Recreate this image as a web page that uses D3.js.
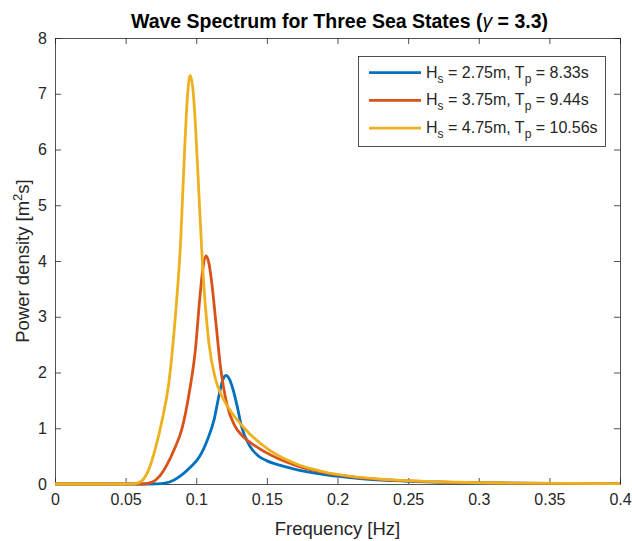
<!DOCTYPE html>
<html>
<head>
<meta charset="utf-8">
<script src="https://cdn.jsdelivr.net/npm/d3@7"></script>
<style>
  body { margin: 0; background: #fff; }
  text { font-family: "Liberation Sans", Arial, Helvetica, sans-serif; }
</style>
</head>
<body>
<div id="chart"></div>
<script>
// frequency [Hz] / power density [m^2 s]
const freqBlue = [0, 0.060, 0.066, 0.072, 0.078, 0.084, 0.090, 0.096, 0.102, 0.108, 0.1126, 0.1162, 0.1186, 0.121, 0.1234, 0.1258, 0.1292, 0.132, 0.138, 0.144, 0.150, 0.156, 0.168, 0.192, 0.216, 0.240, 0.300, 0.360, 0.400];
const psdBlue = [0, 0, 0, 0.002, 0.016, 0.067, 0.168, 0.304, 0.478, 0.799, 1.150, 1.601, 1.851, 1.950, 1.887, 1.717, 1.369, 1.038, 0.676, 0.502, 0.415, 0.360, 0.277, 0.163, 0.097, 0.060, 0.020, 0.008, 0.005];

const freqRed = [0, 0.0582, 0.0635, 0.0688, 0.0741, 0.0794, 0.0847, 0.0900, 0.0953, 0.0994, 0.1026, 0.1048, 0.1069, 0.1090, 0.1110, 0.1140, 0.1168, 0.1218, 0.1271, 0.1324, 0.1377, 0.1483, 0.1694, 0.1906, 0.2118, 0.2648, 0.3177, 0.3707, 0.400];
const psdRed = [0, 0, 0.004, 0.034, 0.142, 0.351, 0.637, 1.003, 1.676, 2.412, 3.357, 3.883, 4.090, 3.957, 3.602, 2.872, 2.178, 1.418, 1.053, 0.871, 0.755, 0.581, 0.341, 0.203, 0.125, 0.043, 0.018, 0.008, 0.006];

const freqYellow = [0, 0.0521, 0.0568, 0.0616, 0.0663, 0.0710, 0.0758, 0.0805, 0.0852, 0.0889, 0.0918, 0.0938, 0.0957, 0.0976, 0.0994, 0.1020, 0.1045, 0.1089, 0.1136, 0.1184, 0.1231, 0.1326, 0.1515, 0.1705, 0.1894, 0.2368, 0.2841, 0.3315, 0.400];
const psdYellow = [0, 0, 0.007, 0.061, 0.254, 0.630, 1.141, 1.798, 3.004, 4.323, 6.016, 6.958, 7.330, 7.092, 6.455, 5.148, 3.903, 2.541, 1.887, 1.561, 1.354, 1.041, 0.611, 0.364, 0.224, 0.077, 0.031, 0.015, 0.006];

const seriesHs = ["2.75", "3.75", "4.75"];
const seriesTp = ["8.33", "9.44", "10.56"];
const colors = ["#0072BD", "#D95319", "#EDB120"];

const xTicks = [0, 0.05, 0.1, 0.15, 0.2, 0.25, 0.3, 0.35, 0.4];
const yTicks = [0, 1, 2, 3, 4, 5, 6, 7, 8];

const W = 632, H = 541;
const margin = {top: 38, right: 12, bottom: 57, left: 55};
const width = W - margin.left - margin.right;
const height = H - margin.top - margin.bottom;
const axisColor = "#262626";

const svg = d3.select("#chart").append("svg")
    .attr("width", W)
    .attr("height", H);

const g = svg.append("g")
    .attr("transform", "translate(" + margin.left + "," + margin.top + ")");

const x = d3.scaleLinear().domain([0, 0.4]).range([0, width]);
const y = d3.scaleLinear().domain([0, 8]).range([height, 0]);

// axes, ticks pointing inward like matlab
let axBottom = g.append("g")
    .attr("transform", "translate(0," + height + ")")
    .call(d3.axisBottom(x).tickValues(xTicks).tickFormat(d => String(d))
        .tickSizeInner(-6).tickSizeOuter(0).tickPadding(10));
let axLeft = g.append("g")
    .call(d3.axisLeft(y).tickValues(yTicks).tickFormat(d => String(d))
        .tickSizeInner(-6).tickSizeOuter(0).tickPadding(8));
let axTop = g.append("g")
    .call(d3.axisTop(x).tickValues(xTicks).tickFormat("")
        .tickSizeInner(-6).tickSizeOuter(0));
let axRight = g.append("g")
    .attr("transform", "translate(" + width + ",0)")
    .call(d3.axisRight(y).tickValues(yTicks).tickFormat("")
        .tickSizeInner(-6).tickSizeOuter(0));

[axBottom, axLeft, axTop, axRight].forEach(function (a) {
    a.selectAll("path, line").attr("stroke", axisColor).attr("stroke-width", 0.8);
    a.selectAll("text").attr("fill", axisColor).style("font-size", "16px");
});

// spectra
const line = d3.line()
    .x(d => x(d[0]))
    .y(d => y(d[1]))
    .curve(d3.curveMonotoneX);

const series = [
    d3.zip(freqBlue, psdBlue),
    d3.zip(freqRed, psdRed),
    d3.zip(freqYellow, psdYellow)
];

series.forEach(function (data, i) {
    g.append("path")
        .datum(data)
        .attr("d", line)
        .attr("fill", "none")
        .attr("stroke", colors[i])
        .attr("stroke-width", 2.8)
        .attr("stroke-linejoin", "round");
});

// title and labels
let title = svg.append("text")
    .attr("x", margin.left + width / 2 + 2)
    .attr("y", 28)
    .attr("text-anchor", "middle")
    .style("font-size", "19.5px")
    .style("font-weight", "bold")
    .attr("fill", "#000");
title.append("tspan").text("Wave Spectrum for Three Sea States (");
title.append("tspan").style("font-weight", "normal").style("font-style", "italic").text("\u03B3");
title.append("tspan").text(" = 3.3)");

svg.append("text")
    .attr("x", margin.left + width / 2)
    .attr("y", 535)
    .attr("text-anchor", "middle")
    .attr("fill", axisColor)
    .style("font-size", "18.5px")
    .text("Frequency [Hz]");

let ylab = svg.append("text")
    .attr("transform", "translate(29," + (margin.top + height / 2) + ") rotate(-90)")
    .attr("text-anchor", "middle")
    .attr("fill", axisColor)
    .style("font-size", "18.5px");
ylab.append("tspan").text("Power density [m");
ylab.append("tspan").attr("dy", -7).style("font-size", "13px").text("2");
ylab.append("tspan").attr("dy", 7).text("s]");

// legend
const legend = svg.append("g");
legend.append("rect")
    .attr("x", 358.5).attr("y", 56.5)
    .attr("width", 247).attr("height", 90)
    .attr("fill", "#fff")
    .attr("stroke", axisColor)
    .attr("stroke-width", 0.8);

seriesHs.forEach(function (hs, i) {
    let cy = 72.7 + i * 27.7;
    legend.append("line")
        .attr("x1", 369).attr("x2", 421)
        .attr("y1", cy).attr("y2", cy)
        .attr("stroke", colors[i])
        .attr("stroke-width", 2.8);
    let t = legend.append("text")
        .attr("x", 426)
        .attr("y", cy + 4.8)
        .attr("fill", axisColor)
        .style("font-size", "16px");
    t.append("tspan").text("H");
    t.append("tspan").attr("dy", 5).style("font-size", "12px").text("s");
    t.append("tspan").attr("dy", -5).text(" = " + hs + "m, T");
    t.append("tspan").attr("dy", 5).style("font-size", "12px").text("p");
    t.append("tspan").attr("dy", -5).text(" = " + seriesTp[i] + "s");
});
</script>
</body>
</html>
